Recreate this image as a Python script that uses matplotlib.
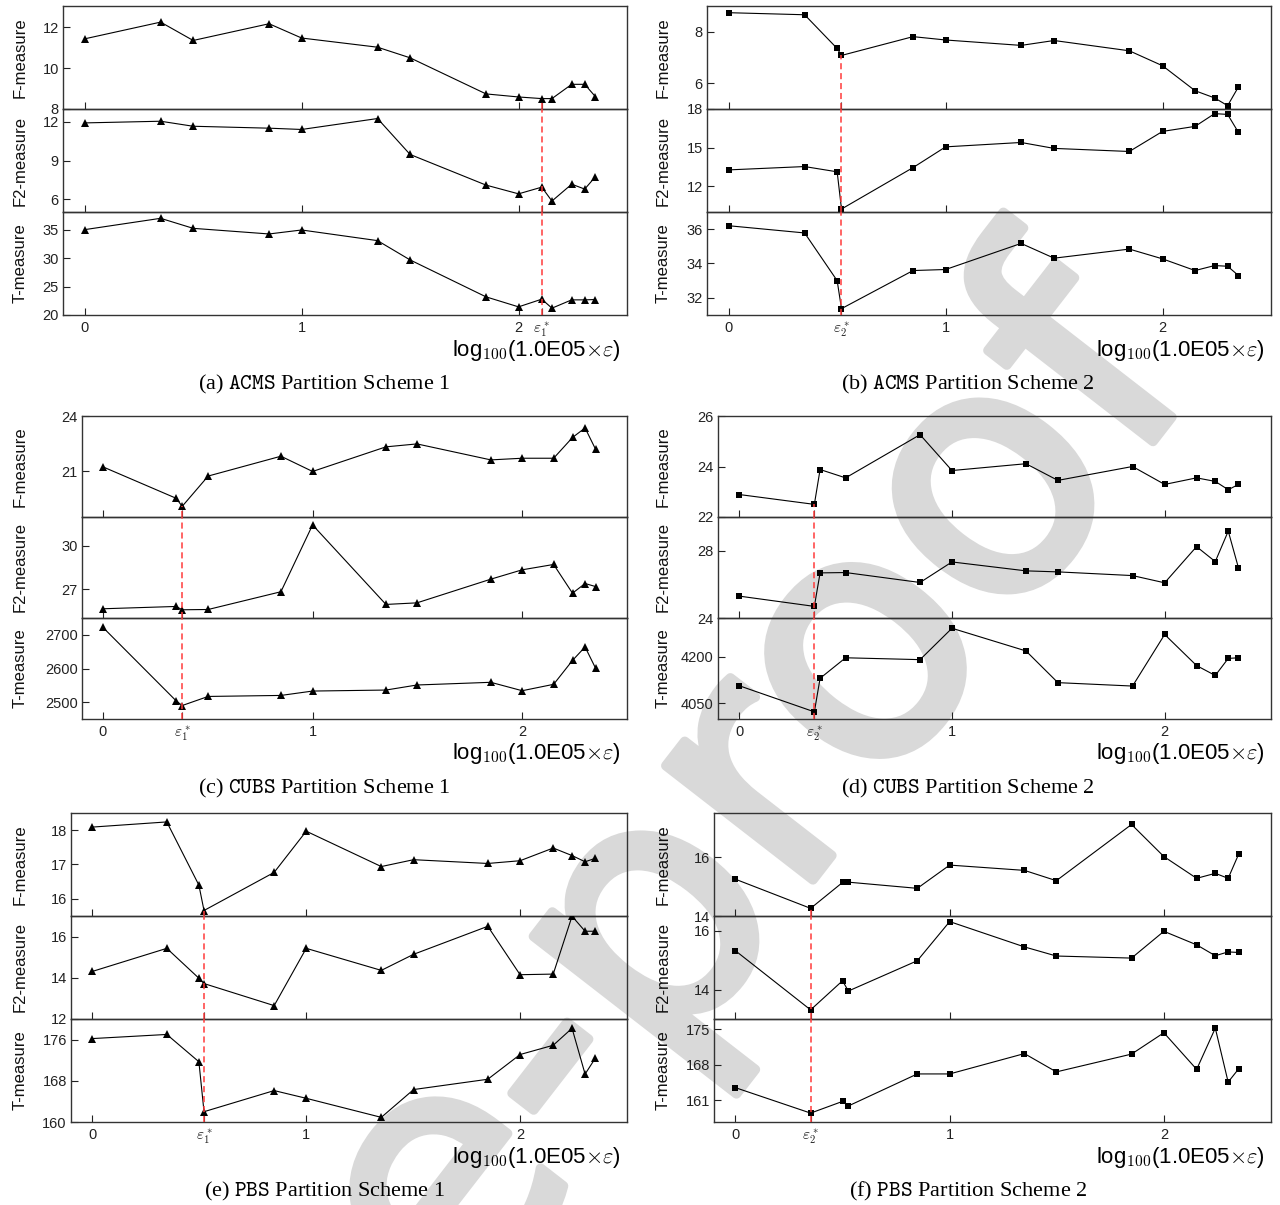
import matplotlib
matplotlib.use('Agg')
import matplotlib.pyplot as plt
import matplotlib.patheffects as pe

plt.rcParams['font.family'] = ['Liberation Sans', 'DejaVu Sans']
plt.rcParams['mathtext.fontset'] = 'cm'

## data, x = log100(1.0E05 x eps)
# (a) ACMS partition scheme 1
acms1_x = [0, 0.35, 0.5, 0.85, 1.0, 1.35, 1.5, 1.85, 2.0, 2.107, 2.154, 2.245, 2.305, 2.354]
acms1_f = [11.44, 12.26, 11.36, 12.18, 11.48, 11.03, 10.51, 8.74, 8.59, 8.51, 8.51, 9.21, 9.21, 8.61]
acms1_f2 = [11.92, 12.05, 11.66, 11.51, 11.41, 12.26, 9.47, 7.09, 6.41, 6.93, 5.85, 7.16, 6.78, 7.73]
acms1_t = [35.0, 36.99, 35.23, 34.24, 34.94, 33.07, 29.68, 23.19, 21.43, 22.78, 21.2, 22.66, 22.66, 22.72]
acms1_opt = 9

# (b) ACMS partition scheme 2
acms2_x = [0, 0.35, 0.5, 0.52, 0.85, 1.0, 1.348, 1.5, 1.847, 2.0, 2.15, 2.24, 2.30, 2.35]
acms2_f = [8.74, 8.66, 7.35, 7.08, 7.81, 7.68, 7.47, 7.66, 7.26, 6.68, 5.71, 5.43, 5.13, 5.86]
acms2_f2 = [13.27, 13.53, 13.12, 10.23, 13.45, 15.06, 15.40, 14.94, 14.70, 16.26, 16.65, 17.64, 17.58, 16.18]
acms2_t = [36.20, 35.78, 33.0, 31.37, 33.59, 33.65, 35.17, 34.31, 34.84, 34.27, 33.59, 33.88, 33.84, 33.30]
acms2_opt = 3

# (c) CUBS partition scheme 1
cubs1_x = [0, 0.349, 0.378, 0.502, 0.849, 1.0, 1.35, 1.498, 1.85, 2.0, 2.15, 2.24, 2.30, 2.35]
cubs1_f = [21.23, 19.52, 19.08, 20.73, 21.81, 20.98, 22.32, 22.48, 21.61, 21.70, 21.70, 22.83, 23.35, 22.19]
cubs1_f2 = [25.64, 25.80, 25.57, 25.59, 26.82, 31.45, 25.94, 26.05, 27.69, 28.34, 28.71, 26.72, 27.39, 27.18]
cubs1_t = [2722, 2504, 2490, 2517, 2520, 2533, 2536, 2551, 2559, 2534, 2553, 2624, 2664, 2601]
cubs1_opt = 2

# (d) CUBS partition scheme 2
cubs2_x = [0, 0.353, 0.38, 0.50, 0.85, 1.0, 1.348, 1.498, 1.849, 2.0, 2.15, 2.238, 2.299, 2.347]
cubs2_f = [22.89, 22.5, 23.88, 23.55, 25.26, 23.84, 24.11, 23.45, 24.0, 23.29, 23.55, 23.41, 23.08, 23.29]
cubs2_f2 = [25.30, 24.69, 26.68, 26.70, 26.11, 27.33, 26.80, 26.74, 26.52, 26.09, 28.24, 27.35, 29.16, 26.98]
cubs2_t = [4107, 4023, 4131, 4197, 4191, 4292, 4219, 4117, 4106, 4272, 4172, 4140, 4195, 4197]
cubs2_opt = 1

# (e) PBS partition scheme 1
pbs1_x = [0, 0.348, 0.498, 0.522, 0.85, 1.0, 1.351, 1.502, 1.849, 2.0, 2.155, 2.243, 2.304, 2.352]
pbs1_f = [18.09, 18.24, 16.40, 15.66, 16.77, 17.97, 16.94, 17.14, 17.03, 17.11, 17.48, 17.26, 17.08, 17.18]
pbs1_f2 = [14.31, 15.43, 13.98, 13.72, 12.65, 15.43, 14.36, 15.14, 16.50, 14.15, 14.18, 16.99, 16.26, 16.26]
pbs1_t = [176.2, 177.0, 171.7, 162.0, 166.1, 164.6, 160.9, 166.3, 168.3, 173.1, 174.9, 178.2, 169.3, 172.4]
pbs1_opt = 3

# (f) PBS partition scheme 2
pbs2_x = [0, 0.351, 0.50, 0.527, 0.849, 1.0, 1.349, 1.498, 1.849, 2.0, 2.153, 2.24, 2.30, 2.349]
pbs2_f = [15.25, 14.26, 15.14, 15.15, 14.94, 15.73, 15.55, 15.20, 17.11, 16.02, 15.28, 15.45, 15.28, 16.10]
pbs2_f2 = [15.32, 13.31, 14.30, 13.95, 14.98, 16.31, 15.45, 15.14, 15.07, 15.98, 15.52, 15.15, 15.28, 15.26]
pbs2_t = [163.5, 158.5, 160.8, 159.9, 166.2, 166.2, 170.2, 166.6, 170.1, 174.3, 167.1, 175.2, 164.6, 167.2]
pbs2_opt = 1

measure_names = ['F-measure', 'F2-measure', 'T-measure']
xlabel = r'log$_{\mathsf{100}}$(1.0E05$\times\varepsilon$)'

## layout: box in pixels (left, top, right, bottom), limits, ticks, styles
W, H = 1280, 1205
panels = [
    dict(series=(acms1_x, acms1_f, acms1_f2, acms1_t, acms1_opt), box=(63, 6, 627, 315),
         ylims=[(8, 13.05), (5, 13), (20, 38.1)], yticks=[[8, 10, 12], [6, 9, 12], [20, 25, 30, 35]],
         marker='^', ms=5.5, eps=r'$\varepsilon_1^*$', caption='(a) ', name='ACMS', scheme=' Partition Scheme 1'),
    dict(series=(acms2_x, acms2_f, acms2_f2, acms2_t, acms2_opt), box=(707, 6, 1271, 315),
         ylims=[(5, 9), (10, 18), (31, 37)], yticks=[[6, 8], [12, 15, 18], [32, 34, 36]],
         marker='s', ms=4, eps=r'$\varepsilon_2^*$', caption='(b) ', name='ACMS', scheme=' Partition Scheme 2'),
    dict(series=(cubs1_x, cubs1_f, cubs1_f2, cubs1_t, cubs1_opt), box=(82, 416, 627, 719),
         ylims=[(18.5, 24), (25, 32), (2450, 2750)], yticks=[[21, 24], [27, 30], [2500, 2600, 2700]],
         marker='^', ms=5.5, eps=r'$\varepsilon_1^*$', caption='(c) ', name='CUBS', scheme=' Partition Scheme 1'),
    dict(series=(cubs2_x, cubs2_f, cubs2_f2, cubs2_t, cubs2_opt), box=(718, 416, 1271, 719),
         ylims=[(22, 26), (24, 30), (4000, 4325)], yticks=[[22, 24, 26], [24, 28], [4050, 4200]],
         marker='s', ms=4, eps=r'$\varepsilon_2^*$', caption='(d) ', name='CUBS', scheme=' Partition Scheme 2'),
    dict(series=(pbs1_x, pbs1_f, pbs1_f2, pbs1_t, pbs1_opt), box=(71, 813, 627, 1122),
         ylims=[(15.5, 18.5), (12, 17), (160, 180)], yticks=[[16, 17, 18], [12, 14, 16], [160, 168, 176]],
         marker='^', ms=5.5, eps=r'$\varepsilon_1^*$', caption='(e) ', name='PBS', scheme=' Partition Scheme 1'),
    dict(series=(pbs2_x, pbs2_f, pbs2_f2, pbs2_t, pbs2_opt), box=(714, 813, 1271, 1122),
         ylims=[(14, 17.5), (13, 16.5), (156.75, 177)], yticks=[[14, 16], [14, 16], [161, 168, 175]],
         marker='s', ms=4, eps=r'$\varepsilon_2^*$', caption='(f) ', name='PBS', scheme=' Partition Scheme 2'),
]

fig = plt.figure(figsize=(W / 100, H / 100), dpi=100)
fig.patch.set_facecolor('white')

# watermark behind everything
wm_color = '#d9d9d9'
fig.text(655 / W, 1 - 930 / H, 'Pre-proof', fontsize=245,
         family='DejaVu Sans', color=wm_color, rotation=52.2,
         rotation_mode='anchor', ha='center', va='center', zorder=-5,
         path_effects=[pe.withStroke(linewidth=7, foreground=wm_color)])

red = '#ff3b3b'
for p in panels:
    x, f, f2, t, opt = p['series']
    L, T, R, B = p['box']
    sub_h = (B - T) / 3.0
    for k, y in enumerate([f, f2, t]):
        top = T + k * sub_h
        ax = fig.add_axes([L / W, 1 - (top + sub_h) / H, (R - L) / W, sub_h / H])
        ax.patch.set_visible(False)
        ax.plot(x, y, color='black', linewidth=0.8, marker=p['marker'],
                markersize=p['ms'], markerfacecolor='black', markeredgewidth=0, zorder=3)
        ax.set_xlim(-0.1, 2.5)
        ax.set_ylim(*p['ylims'][k])
        ax.set_yticks(p['yticks'][k])
        ax.tick_params(axis='both', direction='in', length=5, width=0.8,
                       labelsize=10.5, colors='#222222', pad=4)
        ax.tick_params(axis='y', pad=3)
        for s in ax.spines.values():
            s.set_linewidth(1.0)
            s.set_color('#333333')
        # dashed marker of the chosen epsilon
        if k == 0:
            ax.plot([x[opt], x[opt]], [p['ylims'][0][0], y[opt]], color=red,
                    linestyle=(0, (4, 2.5)), linewidth=1.1, zorder=5)
        else:
            ax.axvline(x[opt], color=red, linestyle=(0, (4, 2.5)), linewidth=1.1, zorder=5)
        # x ticks
        ticks = sorted([0, 1, 2, x[opt]])
        labels = [p['eps'] if v == x[opt] else str(v) for v in ticks]
        ax.set_xticks(ticks)
        if k == 2:
            ax.set_xticklabels(labels)
            for lab in ax.get_xticklabels():
                if lab.get_text() == p['eps']:
                    lab.set_fontsize(11)
        else:
            ax.set_xticklabels([])
        ylab_x = 20 if L < 640 else 663
        fig.text(ylab_x / W, 1 - (top + sub_h / 2) / H, measure_names[k], rotation=90,
                 ha='center', va='center', fontsize=12, color='#111111')

    # axis title under the stack
    fig.text((R - 6) / W, 1 - (B + 35) / H, xlabel, ha='right', va='center', fontsize=16)
    # caption
    cx = 324 if L < 640 else 968
    fig.text(cx / W, 1 - (B + 69) / H,
             p['caption'] + r'$\mathtt{' + p['name'] + '}$' + p['scheme'],
             ha='center', va='center', fontsize=16, family='Liberation Serif')

fig.savefig('out.png', dpi=100, facecolor='white')
